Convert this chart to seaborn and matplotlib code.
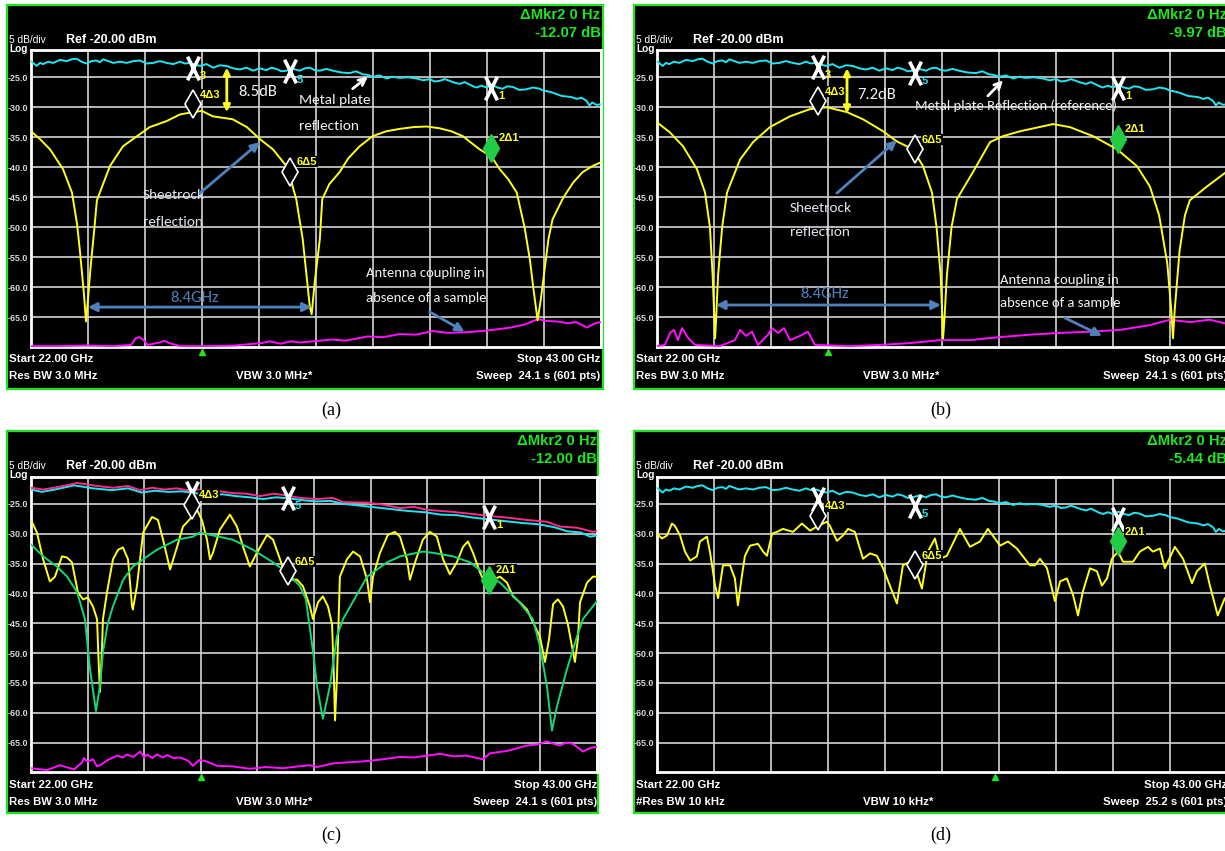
import matplotlib
matplotlib.use("Agg")
import matplotlib.pyplot as plt
from matplotlib import font_manager
from matplotlib.path import Path
import seaborn as sns

sns.set_theme(style="dark")
plt.rcParams["font.family"] = ["Liberation Sans", "DejaVu Sans"]

_names = {f.name for f in font_manager.fontManager.ttflist}
INSTR = "Liberation Sans Narrow" if "Liberation Sans Narrow" in _names else "Liberation Sans"
SHRINK = 1.0 if INSTR.endswith("Narrow") else 0.86
NOTE = "Carlito" if "Carlito" in _names else "Lato"

W, H = 1225, 851

YELLOW = "#ffff1a"
CYAN = "#1ee6f0"
MAGENTA = "#ff10ff"
PINK = "#ff2a8a"
FIT_GREEN = "#14d878"
SCREEN_GREEN = "#1ee61e"
NOTE_BLUE = "#4f81bd"

# narrow, tall "X" used by the analyser for normal markers
X_MARK = Path([(-0.5, -1.0), (0.5, 1.0), (-0.5, 1.0), (0.5, -1.0)],
              [Path.MOVETO, Path.LINETO, Path.MOVETO, Path.LINETO])

# grid / axis labels of the analyser screen
grid_freq = [22.0, 24.1, 26.2, 28.3, 30.4, 32.5, 34.6, 36.7, 38.8, 40.9, 43.0]
grid_db = [-25, -30, -35, -40, -45, -50, -55, -60, -65]
grid_db_labels = ["-25.0", "-30.0", "-35.0", "-40.0", "-45.0", "-50.0", "-55.0", "-60.0", "-65.0"]

# metal plate reference (cyan), same sweep shown in a, b, d
metal_freq = [
    22.00, 22.10, 22.21, 22.33, 22.45, 22.63, 22.82, 23.07, 23.32, 23.50,
    23.68, 23.86, 24.05, 24.23, 24.42, 24.54, 24.66, 24.85, 25.03, 25.28,
    25.53, 25.77, 26.02, 26.26, 26.51, 26.75, 27.00, 27.25, 27.49, 27.67,
    27.86, 28.05, 28.23, 28.47, 28.72, 28.96, 29.21, 29.45, 29.70, 29.95,
    30.19, 30.43, 30.68, 30.86, 31.05, 31.23, 31.42, 31.66, 31.91, 32.10,
    32.28, 32.46, 32.65, 32.89, 33.13, 33.44, 33.75, 33.99, 34.23, 34.41,
    34.60, 34.86, 35.12, 35.35, 35.59, 35.90, 36.22, 36.46, 36.70, 36.88,
    37.07, 37.25, 37.44, 37.62, 37.81, 37.99, 38.17, 38.30, 38.43, 38.61,
    38.80, 38.91, 39.02, 39.20, 39.39, 39.57, 39.76, 40.01, 40.27, 40.51,
    40.75, 40.88, 41.01, 41.20, 41.38, 41.56, 41.75, 41.93, 42.12, 42.30,
    42.48, 42.59, 42.70, 42.85, 43.00,
]
metal_db = [
    -22.3, -22.7, -23.1, -22.6, -22.8, -22.4, -22.6, -22.1, -22.3, -22.0,
    -21.9, -22.4, -22.7, -22.3, -22.2, -22.5, -22.0, -22.3, -22.6, -22.4,
    -22.6, -22.3, -22.2, -22.7, -22.6, -22.3, -22.6, -22.8, -22.4, -22.7,
    -22.6, -22.9, -23.1, -22.8, -23.4, -23.0, -23.1, -23.5, -23.7, -23.4,
    -23.9, -23.5, -23.8, -23.4, -23.6, -24.0, -23.9, -23.6, -23.9, -23.5,
    -23.4, -23.8, -23.9, -23.6, -23.9, -24.2, -24.3, -24.0, -24.5, -24.6,
    -24.9, -24.7, -25.2, -24.9, -25.1, -25.0, -25.2, -25.5, -25.3, -25.7,
    -25.6, -25.3, -25.6, -25.9, -26.1, -25.8, -26.2, -26.5, -26.7, -26.4,
    -26.7, -26.5, -26.3, -26.7, -26.9, -26.5, -26.6, -27.1, -27.0, -26.7,
    -26.9, -27.2, -27.3, -27.5, -27.8, -28.1, -28.2, -28.3, -28.6, -28.4,
    -28.9, -29.7, -29.2, -29.6, -29.5,
]

# (a) sheetrock reflection (yellow) and antenna coupling (magenta)
a_sheet_freq = [
    22.00, 22.33, 22.70, 23.18, 23.51, 23.70, 23.81, 23.95, 24.03, 24.10,
    24.20, 24.33, 24.43, 24.91, 25.39, 25.76, 26.38, 27.00, 27.49, 27.97,
    28.30, 28.70, 29.44, 29.96, 30.44, 30.92, 31.42, 31.65, 31.78, 32.02,
    32.28, 32.35, 32.46, 32.65, 32.74, 33.00, 33.38, 33.70, 34.12, 34.60,
    35.10, 35.59, 36.10, 36.59, 37.07, 37.50, 37.92, 38.20, 38.54, 38.98,
    39.28, 39.60, 39.91, 40.20, 40.40, 40.52, 40.68, 40.80, 40.94, 41.08,
    41.23, 41.60, 41.75, 42.00, 42.34, 42.70, 43.00,
]
a_sheet_db = [
    -34.0, -35.3, -37.0, -40.3, -44.2, -49.5, -54.2, -61.0, -65.7, -62.0,
    -56.5, -50.5, -45.5, -39.8, -36.5, -35.3, -33.3, -32.3, -31.2, -30.8,
    -30.6, -31.5, -32.0, -33.3, -35.3, -37.0, -39.8, -43.2, -45.3, -52.0,
    -63.2, -64.5, -59.2, -52.0, -45.3, -42.8, -40.8, -38.5, -36.5, -34.8,
    -34.0, -33.6, -33.3, -33.2, -33.5, -34.0, -34.8, -35.8, -37.0, -38.2,
    -40.3, -42.0, -44.2, -50.0, -55.5, -60.0, -65.5, -62.0, -57.0, -52.0,
    -48.7, -45.3, -44.2, -42.5, -40.8, -39.8, -39.2,
]
a_coupling_freq = [
    22.00, 23.00, 24.00, 25.00, 25.70, 25.85, 26.00, 26.15, 26.30, 26.75,
    26.90, 27.10, 27.50, 28.50, 29.50, 30.50, 30.80, 31.20, 31.60, 31.90,
    32.40, 33.10, 33.60, 34.40, 35.00, 35.60, 36.20, 36.80, 37.40, 38.00,
    38.60, 39.20, 39.70, 40.20, 40.70, 41.00, 41.40, 41.80, 42.10, 42.50,
    42.80, 43.00,
]
a_coupling_db = [
    -69.8, -69.8, -69.7, -69.8, -69.6, -68.5, -68.3, -68.8, -69.6, -69.2,
    -68.9, -69.3, -69.8, -69.8, -69.7, -69.3, -69.0, -69.4, -69.0, -69.2,
    -69.0, -68.7, -68.9, -68.2, -68.3, -67.8, -67.9, -67.3, -67.6, -67.5,
    -67.3, -67.0, -66.7, -66.2, -65.3, -65.6, -65.7, -66.0, -65.8, -66.7,
    -66.0, -65.8,
]

# (b)
b_sheet_freq = [
    22.00, 22.48, 22.96, 23.47, 23.77, 23.95, 24.05, 24.12, 24.14, 24.17,
    24.25, 24.40, 24.58, 25.06, 25.54, 26.16, 26.90, 27.64, 28.26, 29.00,
    29.59, 30.33, 30.84, 31.43, 31.80, 32.13, 32.30, 32.45, 32.52, 32.54,
    32.58, 32.68, 32.85, 33.05, 33.64, 34.27, 34.75, 35.37, 36.59, 37.21,
    38.06, 38.95, 39.68, 40.16, 40.50, 40.80, 40.95, 41.01, 41.07, 41.25,
    41.45, 41.63, 42.26, 43.00,
]
b_sheet_db = [
    -32.5, -34.2, -36.5, -40.3, -44.2, -50.0, -58.0, -66.0, -68.5, -66.0,
    -58.0, -50.0, -44.2, -38.7, -35.8, -33.3, -31.5, -30.3, -30.0, -30.8,
    -32.0, -34.0, -35.7, -37.0, -39.8, -44.2, -50.0, -58.0, -66.0, -68.5,
    -66.0, -58.0, -50.0, -45.3, -40.8, -35.8, -34.8, -34.0, -32.8, -33.3,
    -34.8, -37.0, -39.8, -43.2, -48.0, -56.0, -64.0, -68.5, -64.0, -54.0,
    -48.0, -45.5, -43.2, -40.7,
]
b_coupling_freq = [
    22.00, 22.29, 22.48, 22.63, 22.77, 22.92, 23.14, 23.40, 24.32, 24.87,
    25.06, 25.28, 25.50, 25.72, 26.09, 26.24, 26.46, 26.68, 26.90, 27.27,
    27.56, 27.82, 29.11, 30.22, 31.32, 32.43, 33.53, 34.64, 35.74, 36.85,
    37.95, 39.06, 40.16, 40.90, 41.64, 42.37, 43.00,
]
b_coupling_db = [
    -69.8, -69.6, -67.6, -67.1, -68.8, -66.8, -68.4, -69.6, -69.8, -68.8,
    -67.1, -68.1, -67.4, -69.6, -67.9, -66.8, -67.6, -66.8, -68.8, -68.1,
    -67.4, -69.6, -69.8, -69.6, -69.3, -68.8, -68.8, -68.3, -67.9, -67.6,
    -67.4, -67.1, -66.3, -65.4, -65.8, -65.4, -66.1,
]

# (c) two references (cyan, pink), sample (yellow), smoothed (green), coupling
c_metal_freq = [
    22.00, 22.40, 23.00, 23.60, 24.30, 25.00, 25.60, 26.10, 26.60, 27.10,
    27.60, 28.10, 28.60, 29.10, 29.60, 30.10, 30.60, 31.10, 31.60, 32.10,
    32.60, 33.10, 33.60, 34.20, 34.80, 35.40, 36.00, 36.60, 37.20, 37.80,
    38.40, 39.00, 39.60, 40.20, 40.80, 41.40, 41.90, 42.40, 42.75, 43.00,
]
c_metal_db = [
    -22.6, -23.0, -22.5, -21.9, -22.4, -22.7, -22.4, -23.1, -22.8, -23.0,
    -22.9, -23.2, -23.6, -23.4, -23.7, -23.9, -24.2, -23.9, -24.1, -24.4,
    -24.6, -24.5, -25.0, -25.3, -25.6, -25.9, -26.2, -26.4, -26.8, -26.9,
    -27.3, -27.6, -27.9, -28.2, -28.4, -28.9, -29.6, -29.8, -30.5, -30.3,
]
c_ref_freq = [
    22.00, 22.45, 23.10, 23.71, 24.45, 25.04, 25.60, 26.04, 26.50, 26.94,
    27.40, 27.79, 28.20, 28.53, 29.00, 29.49, 30.00, 30.50, 31.00, 31.35,
    31.98, 32.61, 33.20, 33.58, 34.47, 35.00, 35.69, 36.20, 36.69, 37.54,
    38.40, 38.92, 39.66, 40.40, 41.14, 41.62, 42.26, 42.60, 42.85, 43.00,
]
c_ref_db = [
    -22.3, -22.6, -22.1, -21.5, -22.0, -22.3, -22.0, -22.7, -22.3, -22.6,
    -22.4, -22.7, -22.6, -23.2, -22.9, -23.2, -23.3, -23.7, -23.3, -23.5,
    -24.0, -24.2, -24.0, -24.7, -24.8, -25.1, -25.7, -25.5, -26.0, -26.3,
    -26.7, -27.0, -27.3, -27.7, -28.0, -28.8, -29.0, -29.4, -29.7, -29.5,
]
c_sample_freq = [
    22.00, 22.22, 22.45, 22.70, 22.89, 23.15, 23.34, 23.52, 23.74, 23.93,
    24.11, 24.30, 24.45, 24.52, 24.56, 24.63, 24.67, 24.82, 25.04, 25.23,
    25.41, 25.60, 25.75, 25.78, 25.93, 26.16, 26.49, 26.71, 26.90, 27.16,
    27.42, 27.64, 27.97, 28.16, 28.34, 28.53, 28.64, 28.75, 29.01, 29.38,
    29.64, 29.87, 30.12, 30.38, 30.76, 30.98, 31.24, 31.50, 31.87, 32.09,
    32.35, 32.46, 32.65, 32.83, 33.02, 33.17, 33.24, 33.28, 33.35, 33.46,
    33.72, 33.95, 34.21, 34.47, 34.58, 34.69, 34.95, 35.24, 35.50, 35.69,
    35.95, 36.06, 36.25, 36.54, 36.80, 37.06, 37.29, 37.54, 37.80, 38.03,
    38.21, 38.40, 38.66, 38.95, 39.14, 39.40, 39.66, 39.88, 40.14, 40.40,
    40.62, 40.88, 41.07, 41.22, 41.37, 41.55, 41.74, 41.92, 42.18, 42.29,
    42.37, 42.63, 42.85, 43.00,
]
c_sample_db = [
    -27.7, -29.8, -34.3, -38.0, -37.2, -33.8, -34.0, -34.8, -39.8, -41.0,
    -40.7, -42.2, -44.3, -52.7, -56.5, -49.8, -44.3, -39.8, -34.3, -32.7,
    -32.3, -34.3, -42.2, -42.7, -38.8, -29.8, -27.2, -27.7, -31.0, -36.0,
    -32.2, -28.8, -27.2, -26.0, -27.7, -31.0, -34.3, -33.2, -29.3, -26.8,
    -28.8, -32.2, -35.5, -33.2, -30.2, -31.0, -34.3, -37.7, -37.7, -38.8,
    -42.2, -44.3, -41.5, -40.5, -42.2, -45.2, -54.3, -61.3, -54.3, -37.2,
    -34.3, -33.0, -33.8, -37.7, -41.5, -37.2, -33.2, -30.2, -29.7, -30.5,
    -34.3, -37.7, -34.8, -31.0, -29.7, -30.5, -34.3, -36.8, -34.8, -32.2,
    -31.3, -33.2, -36.5, -39.3, -37.7, -37.2, -38.2, -40.5, -41.5, -42.7,
    -44.8, -47.2, -51.5, -47.7, -41.8, -41.0, -42.2, -45.2, -51.5, -47.7,
    -41.5, -38.2, -37.2, -37.2,
]
c_fit_freq = [
    22.00, 22.45, 22.96, 23.34, 23.71, 24.00, 24.19, 24.41, 24.56, 24.67,
    24.85, 25.04, 25.41, 25.78, 26.16, 26.67, 27.42, 28.01, 28.27, 28.75,
    29.49, 30.24, 30.98, 31.50, 31.98, 32.20, 32.35, 32.50, 32.61, 32.83,
    33.09, 33.35, 33.58, 34.47, 35.21, 35.69, 36.54, 36.91, 37.66, 38.29,
    38.77, 39.40, 40.03, 40.62, 40.88, 41.14, 41.33, 41.51, 41.88, 42.26,
    42.48, 43.00,
]
c_fit_db = [
    -31.8, -33.8, -35.5, -37.2, -39.8, -44.3, -52.7, -59.7, -55.5, -49.8,
    -45.0, -42.2, -37.8, -35.5, -34.3, -32.7, -31.0, -30.5, -29.8, -30.3,
    -31.0, -32.7, -34.8, -36.5, -38.8, -41.0, -46.0, -51.0, -55.5, -61.0,
    -55.5, -47.2, -44.3, -37.2, -34.8, -33.8, -33.0, -33.2, -33.8, -34.8,
    -36.5, -38.2, -41.0, -44.3, -48.8, -55.5, -63.0, -59.0, -52.8, -47.2,
    -44.3, -41.3,
]
c_coupling_freq = [
    22.00, 22.60, 23.07, 23.60, 23.90, 23.96, 24.10, 24.30, 24.45, 24.60,
    24.82, 25.00, 25.20, 25.40, 25.56, 25.80, 26.05, 26.20, 26.30, 26.50,
    26.67, 26.90, 27.05, 27.30, 27.53, 27.82, 28.01, 28.15, 28.27, 28.53,
    28.75, 28.90, 29.50, 30.12, 30.70, 31.35, 31.90, 32.35, 32.61, 33.20,
    33.83, 34.47, 35.06, 35.69, 36.20, 36.69, 37.17, 37.70, 38.17, 38.77,
    39.03, 39.66, 40.00, 40.40, 40.80, 41.14, 41.40, 41.62, 41.85, 42.10,
    42.48, 42.75, 43.00,
]
c_coupling_db = [
    -69.3, -69.6, -68.8, -69.5, -68.3, -67.6, -68.2, -67.8, -69.0, -68.7,
    -68.0, -67.6, -67.2, -67.5, -67.0, -67.4, -66.5, -67.5, -67.0, -67.6,
    -67.0, -67.5, -67.1, -67.6, -67.5, -68.0, -68.9, -68.3, -67.9, -68.2,
    -68.6, -68.9, -69.0, -69.4, -69.1, -69.3, -69.0, -68.8, -69.1, -68.5,
    -68.3, -68.1, -67.8, -67.4, -67.5, -67.2, -66.9, -67.3, -67.2, -67.8,
    -66.8, -66.4, -66.0, -65.5, -65.3, -64.8, -65.2, -65.5, -65.0, -65.2,
    -66.5, -65.9, -65.7,
]

# (d) sample at 10 kHz RBW
d_sample_freq = [
    22.00, 22.18, 22.37, 22.55, 22.66, 22.85, 23.03, 23.22, 23.47, 23.58,
    23.84, 23.95, 24.14, 24.25, 24.43, 24.69, 24.87, 24.98, 25.13, 25.24,
    25.43, 25.72, 25.91, 26.05, 26.24, 26.42, 26.64, 27.01, 27.34, 27.64,
    27.93, 28.26, 28.37, 28.63, 28.85, 29.04, 29.29, 29.59, 29.85, 30.10,
    30.33, 30.58, 30.84, 31.06, 31.32, 31.58, 31.76, 31.98, 32.24, 32.43,
    32.68, 33.16, 33.53, 33.90, 34.19, 34.64, 34.93, 35.26, 35.74, 35.93,
    36.11, 36.37, 36.66, 36.85, 37.10, 37.33, 37.51, 37.69, 37.95, 38.21,
    38.39, 38.58, 38.76, 38.98, 39.17, 39.54, 39.79, 40.09, 40.27, 40.53,
    40.71, 41.08, 41.38, 41.71, 41.89, 42.18, 42.37, 42.66, 42.92,
]
d_sample_db = [
    -30.0, -30.8, -30.3, -28.3, -28.7, -30.3, -33.0, -34.5, -33.8, -31.3,
    -30.5, -33.0, -38.7, -40.8, -35.3, -35.3, -37.5, -42.0, -37.0, -33.7,
    -32.0, -31.7, -33.0, -33.7, -30.0, -29.7, -29.2, -29.7, -28.3, -29.5,
    -28.7, -28.0, -28.7, -31.2, -30.3, -29.2, -29.7, -34.2, -33.3, -33.7,
    -35.8, -38.7, -41.7, -35.3, -34.7, -36.7, -39.2, -33.0, -30.8, -34.2,
    -33.7, -29.2, -32.2, -31.3, -29.2, -32.0, -31.3, -32.5, -35.3, -35.3,
    -34.2, -35.8, -41.3, -38.0, -37.5, -40.3, -43.7, -39.7, -35.8, -36.3,
    -38.7, -37.5, -34.2, -33.0, -34.7, -34.7, -33.0, -32.2, -33.0, -32.5,
    -35.8, -32.2, -34.2, -38.3, -36.3, -35.0, -38.7, -43.7, -40.8,
]

# markers: X at markers 3, 5, 1 and delta diamonds 4, 6, 2
marker_names = ["3", "5", "1"]
delta_names = ["4\u03943", "6\u03945", "2\u03941"]
a_mkr_freq = [27.97, 31.54, 38.98]
a_mkr_db = [-23.4, -24.0, -26.7]
a_delta_db = [-29.5, -40.7, -36.7]
b_mkr_freq = [27.93, 31.50, 38.98]
b_mkr_db = [-23.2, -24.2, -26.7]
b_delta_db = [-29.0, -37.0, -35.3]
c_mkr_freq = [27.97, 31.54, 38.99]
c_mkr_db = [-23.2, -24.0, -27.2]
c_delta_db = [-25.2, -36.3, -37.7]
d_mkr_freq = [27.93, 31.50, 38.98]
d_mkr_db = [-24.2, -25.3, -27.5]
d_delta_db = [-27.0, -35.3, -31.3]

center_mark_freq = [28.3, 28.3, 28.3, 34.45]
mkr_readout = ["-12.07 dB", "-9.97 dB", "-12.00 dB", "-5.44 dB"]


def px_rect(x0, y0, x1, y1):
    return [x0 / W, 1 - y1 / H, (x1 - x0) / W, (y1 - y0) / H]


def instr_text(bg, x, y, s, size, ha="left", color="white", weight="bold"):
    bg.text(x, y, s, ha=ha, va="center", color=color, fontsize=size * SHRINK,
            family=[INSTR, "DejaVu Sans"], fontweight=weight)


def build_screen(fig, outer, plot, top_db, readout, res_bw, vbw, sweep):
    x0, y0, x1, y1 = outer
    bg = fig.add_axes(px_rect(*outer))
    bg.set_facecolor("black")
    bg.set_xlim(x0, x1)
    bg.set_ylim(y1, y0)
    bg.set_xticks([])
    bg.set_yticks([])
    bg.grid(False)
    for s in bg.spines.values():
        s.set_color(SCREEN_GREEN)
        s.set_linewidth(1.6)

    right = min(plot[2], 1227)
    instr_text(bg, x0 + 2, y0 + 35, "5 dB/div", 8.5, weight="normal")
    instr_text(bg, x0 + 2, y0 + 44, "Log", 8.5)
    instr_text(bg, x0 + 59, y0 + 35, "Ref -20.00 dBm", 10.5)
    instr_text(bg, right, y0 + 10, "\u0394Mkr2 0 Hz", 12.5, ha="right", color=SCREEN_GREEN)
    instr_text(bg, right, y0 + 28, readout, 12.5, ha="right", color=SCREEN_GREEN)
    instr_text(bg, x0 + 2, y0 + 354, "Start 22.00 GHz", 9.5)
    instr_text(bg, x0 + 2, y0 + 371, res_bw, 9.5)
    instr_text(bg, x0 + 229, y0 + 371, vbw, 9.5)
    instr_text(bg, right, y0 + 354, "Stop 43.00 GHz", 9.5, ha="right")
    instr_text(bg, right, y0 + 371, sweep, 9.5, ha="right")

    ax = fig.add_axes(px_rect(*plot))
    ax.set_facecolor("black")
    ax.set_xlim(22, 43)
    ax.set_ylim(-70, top_db)
    ax.set_xticks(grid_freq)
    ax.set_xticklabels([])
    ax.set_yticks(grid_db)
    ax.set_yticklabels(grid_db_labels, family=[INSTR, "DejaVu Sans"], fontweight="bold")
    ax.tick_params(length=0, pad=2, labelsize=6.5, labelcolor="#d8d8d8")
    ax.grid(True, color="#d4d4d4", lw=1.2)
    ax.set_axisbelow(True)
    for s in ax.spines.values():
        s.set_color("white")
        s.set_linewidth(2)
    ax.set_xlabel("")
    ax.set_ylabel("")
    return ax


def trace(ax, freq, db, color, z=3, lw=1.4):
    sns.lineplot(x=freq, y=db, ax=ax, color=color, linewidth=lw,
                 estimator=None, sort=False, legend=False, zorder=z)


def markers(ax, mkr_freq, mkr_db, delta_db, center):
    sub_colors = [YELLOW, CYAN, YELLOW]
    for i, (f, m, d) in enumerate(zip(mkr_freq, mkr_db, delta_db)):
        ax.plot([f], [m], marker=X_MARK, ms=17, mew=2.6, color="white",
                linestyle="none", zorder=8)
        # the analyser hides the marker number when the delta label sits right beside it
        if m - d > 4.5:
            ax.annotate(marker_names[i], (f, m), xytext=(5, -6), textcoords="offset points",
                        color=sub_colors[i], fontsize=8, fontweight="bold", va="center",
                        family=[INSTR, "DejaVu Sans"], zorder=8)
        if i == 2:
            ax.plot([f], [d], marker="d", ms=14, mfc="#22cc44", mec="#22cc44", zorder=8)
        else:
            ax.plot([f], [d], marker="d", ms=14, mfc="black", mec="white", mew=1.2, zorder=8)
        ax.annotate(delta_names[i], (f, d), xytext=(5, 7), textcoords="offset points",
                    color=YELLOW, fontsize=8, fontweight="bold", va="center",
                    family=[INSTR, "DejaVu Sans"], zorder=8,
                    bbox=dict(boxstyle="square,pad=0.05", fc="black", ec="none"))
    ax.plot([center], [-70.7], marker="^", ms=4.5, color=SCREEN_GREEN, clip_on=False, zorder=8)


def note(ax, f, db, s, color="#f2f2f2", size=11, ha="left"):
    ax.text(f, db, s, ha=ha, va="center", color=color, fontsize=size,
            family=[NOTE, "DejaVu Sans"], zorder=9)


def arrow(ax, start, end, color, style="-|>", lw=2, scale=13):
    ax.annotate("", xy=end, xytext=start, zorder=9,
                arrowprops=dict(arrowstyle=style, color=color, lw=lw,
                                mutation_scale=scale, shrinkA=0, shrinkB=0))


fig = plt.figure(figsize=(W / 100, H / 100), dpi=100)
fig.patch.set_facecolor("white")

# (a)
ax_a = build_screen(fig, (7, 5, 603, 389), (31, 50, 600.5, 347.3), -20.45,
                    mkr_readout[0], "Res BW 3.0 MHz", "VBW 3.0 MHz*", "Sweep  24.1 s (601 pts)")
trace(ax_a, a_coupling_freq, a_coupling_db, MAGENTA)
trace(ax_a, metal_freq, metal_db, CYAN)
trace(ax_a, a_sheet_freq, a_sheet_db, YELLOW, z=4)
markers(ax_a, a_mkr_freq, a_mkr_db, a_delta_db, center_mark_freq[0])
arrow(ax_a, (29.22, -23.4), (29.22, -30.8), YELLOW, style="<|-|>", scale=10)
note(ax_a, 29.65, -27.4, "8.5dB", size=12)
note(ax_a, 31.9, -28.7, "Metal plate")
note(ax_a, 31.9, -33.1, "reflection")
arrow(ax_a, (33.86, -26.9), (34.42, -24.9), "white", style="->", scale=12)
note(ax_a, 26.13, -44.6, "Sheetrock", color="#dde4ee")
note(ax_a, 26.13, -49.1, "reflection", color="#dde4ee")
arrow(ax_a, (28.23, -44.3), (30.44, -35.8), NOTE_BLUE)
note(ax_a, 28.05, -61.8, "8.4GHz", color=NOTE_BLUE, size=12, ha="center")
arrow(ax_a, (24.1, -63.3), (32.35, -63.3), NOTE_BLUE, style="<|-|>")
note(ax_a, 34.34, -57.6, "Antenna coupling in", size=10.5)
note(ax_a, 34.34, -61.8, "absence of a sample", size=10.5)
arrow(ax_a, (36.7, -64.1), (37.99, -67.4), NOTE_BLUE)

# (b)
ax_b = build_screen(fig, (634, 5, 1245, 389), (657, 50, 1227, 347.3), -20.45,
                    mkr_readout[1], "Res BW 3.0 MHz", "VBW 3.0 MHz*", "Sweep  24.1 s (601 pts)")
trace(ax_b, b_coupling_freq, b_coupling_db, MAGENTA)
trace(ax_b, metal_freq, metal_db, CYAN)
trace(ax_b, b_sheet_freq, b_sheet_db, YELLOW, z=4)
markers(ax_b, b_mkr_freq, b_mkr_db, b_delta_db, center_mark_freq[1])
arrow(ax_b, (29.0, -23.5), (29.0, -31.0), YELLOW, style="<|-|>", scale=10)
note(ax_b, 29.37, -28.0, "7.2dB", size=12)
note(ax_b, 31.5, -29.8, "Metal plate Reflection (reference)", size=10.5)
arrow(ax_b, (34.19, -28.1), (34.75, -25.5), "white", style="->", scale=12)
note(ax_b, 26.9, -46.8, "Sheetrock", color="#dde4ee")
note(ax_b, 26.9, -50.8, "reflection", color="#dde4ee")
arrow(ax_b, (28.63, -44.3), (30.84, -35.5), NOTE_BLUE)
note(ax_b, 28.19, -61.2, "8.4GHz", color=NOTE_BLUE, size=12, ha="center")
arrow(ax_b, (24.17, -62.95), (32.46, -62.95), NOTE_BLUE, style="<|-|>")
note(ax_b, 34.64, -58.8, "Antenna coupling in", size=10.5)
note(ax_b, 34.64, -62.6, "absence of a sample", size=10.5)
arrow(ax_b, (37.03, -65.1), (38.39, -68.1), NOTE_BLUE)

# (c)
ax_c = build_screen(fig, (7, 431, 598, 813), (31, 477, 597, 772.4), -20.5,
                    mkr_readout[2], "Res BW 3.0 MHz", "VBW 3.0 MHz*", "Sweep  24.1 s (601 pts)")
trace(ax_c, c_coupling_freq, c_coupling_db, MAGENTA)
trace(ax_c, c_metal_freq, c_metal_db, CYAN)
trace(ax_c, c_ref_freq, c_ref_db, PINK)
trace(ax_c, c_sample_freq, c_sample_db, YELLOW, z=4)
trace(ax_c, c_fit_freq, c_fit_db, FIT_GREEN, z=5)
markers(ax_c, c_mkr_freq, c_mkr_db, c_delta_db, center_mark_freq[2])

# (d)
ax_d = build_screen(fig, (634, 431, 1245, 813), (657, 477, 1227, 772.4), -20.5,
                    mkr_readout[3], "#Res BW 10 kHz", "VBW 10 kHz*", "Sweep  25.2 s (601 pts)")
trace(ax_d, metal_freq, metal_db, CYAN)
trace(ax_d, d_sample_freq, d_sample_db, YELLOW, z=4)
markers(ax_d, d_mkr_freq, d_mkr_db, d_delta_db, center_mark_freq[3])

for label, (x, y) in zip(["(a)", "(b)", "(c)", "(d)"],
                         [(331, 410), (941, 410), (331, 835), (941, 835)]):
    fig.text(x / W, 1 - y / H, label, ha="center", va="center", fontsize=13,
             family=["Liberation Serif", "DejaVu Serif"], color="black")

fig.savefig("out.png", dpi=100, facecolor="white")
